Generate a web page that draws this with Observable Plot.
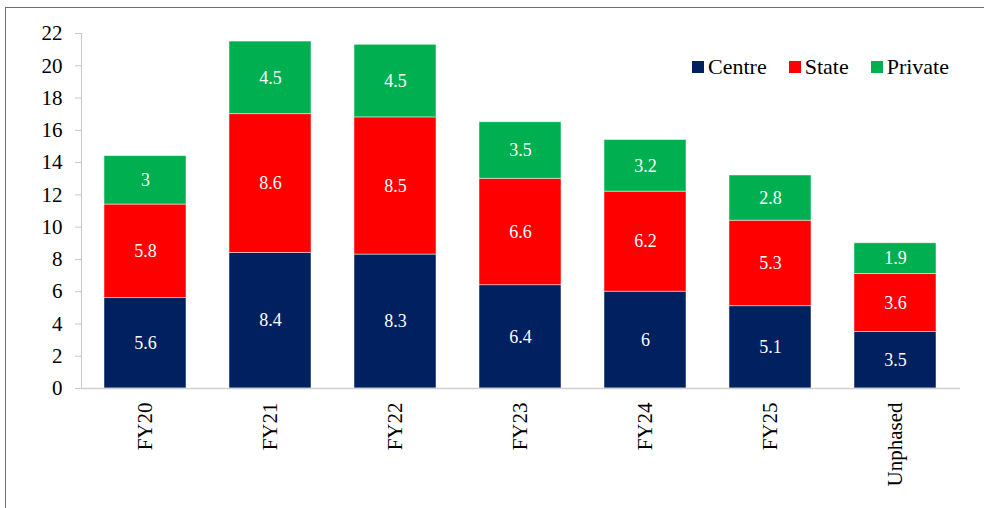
<!DOCTYPE html>
<html>
<head>
<meta charset="utf-8">
<script src="https://cdn.jsdelivr.net/npm/d3@7"></script>
<script src="https://cdn.jsdelivr.net/npm/@observablehq/plot@0.6"></script>
<style>
  html, body { margin: 0; padding: 0; background: #fff; overflow: hidden; }
  #wrap { position: relative; width: 984px; height: 508px; font-family: "Liberation Serif", serif; }
  #frame { position: absolute; left: 5px; top: 7px; width: 1200px; height: 800px; border-top: 1.5px solid #6f6f6f; border-left: 1.5px solid #6f6f6f; box-sizing: border-box; pointer-events: none; }
  #chart { position: absolute; left: 0; top: 0; }
  #chart svg, #chart svg text { font-family: "Liberation Serif", serif !important; }
  #legend { position: absolute; left: 692px; top: 54px; display: flex; align-items: center; font-size: 22px; color: #000; font-family: "Liberation Serif", serif; }
  .item { display: flex; align-items: center; margin-right: 22px; }
  .sw { width: 12px; height: 12px; margin-right: 4px; display: inline-block; }
</style>
</head>
<body>
<div id="wrap">
  <div id="frame"></div>
  <div id="chart"></div>
  <div id="legend"></div>
</div>
<script>
const categories = ["FY20", "FY21", "FY22", "FY23", "FY24", "FY25", "Unphased"];
const seriesNames = ["Centre", "State", "Private"];
const centre  = [5.6, 8.4, 8.3, 6.4, 6.0, 5.1, 3.5];
const state   = [5.8, 8.6, 8.5, 6.6, 6.2, 5.3, 3.6];
const privateV = [3.0, 4.5, 4.5, 3.5, 3.2, 2.8, 1.9];
const colors = ["#002060", "#FF0000", "#00B050"];
const yTicks = [0, 2, 4, 6, 8, 10, 12, 14, 16, 18, 20, 22];

const seriesValues = [centre, state, privateV];
const data = [];
seriesNames.forEach((s, si) => {
  categories.forEach((c, ci) => {
    data.push({category: c, series: s, value: seriesValues[si][ci]});
  });
});

const serif = "Liberation Serif";

const plot = Plot.plot({
  width: 984,
  height: 508,
  marginLeft: 81,
  marginRight: 24,
  marginTop: 33,
  marginBottom: 120,
  style: {fontFamily: serif, background: "transparent"},
  x: {domain: categories, paddingInner: 0.34, paddingOuter: 0.17, label: null},
  y: {domain: [0, 22], label: null},
  color: {domain: seriesNames, range: colors},
  marks: [
    Plot.barY(data, {x: "category", y: "value", fill: "series", stroke: "white", strokeWidth: 0.8, strokeOpacity: 0.6}),
    Plot.text(data, Plot.stackY({x: "category", y: "value", z: "series", text: d => String(d.value), fill: "white", fontSize: 18, fontFamily: serif})),
    Plot.frame({anchor: "left", stroke: "#c8c8c8"}),
    Plot.ruleY([0], {stroke: "#d0d0d0", strokeWidth: 1.5}),
    Plot.axisY({ticks: yTicks, tickSize: 6, tickPadding: 13, stroke: "#c8c8c8", fill: "black", fontSize: 21, fontFamily: serif, label: null}),
    Plot.axisX({tickSize: 0, tickPadding: 14, tickRotate: -90, fontSize: 21, fontFamily: serif, fill: "black", label: null})
  ]
});
document.getElementById("chart").appendChild(plot);

const legend = document.getElementById("legend");
seriesNames.forEach((s, i) => {
  const item = document.createElement("div");
  item.className = "item";
  const sw = document.createElement("span");
  sw.className = "sw";
  sw.style.background = colors[i];
  const t = document.createElement("span");
  t.textContent = s;
  item.appendChild(sw);
  item.appendChild(t);
  legend.appendChild(item);
});
</script>
</body>
</html>
